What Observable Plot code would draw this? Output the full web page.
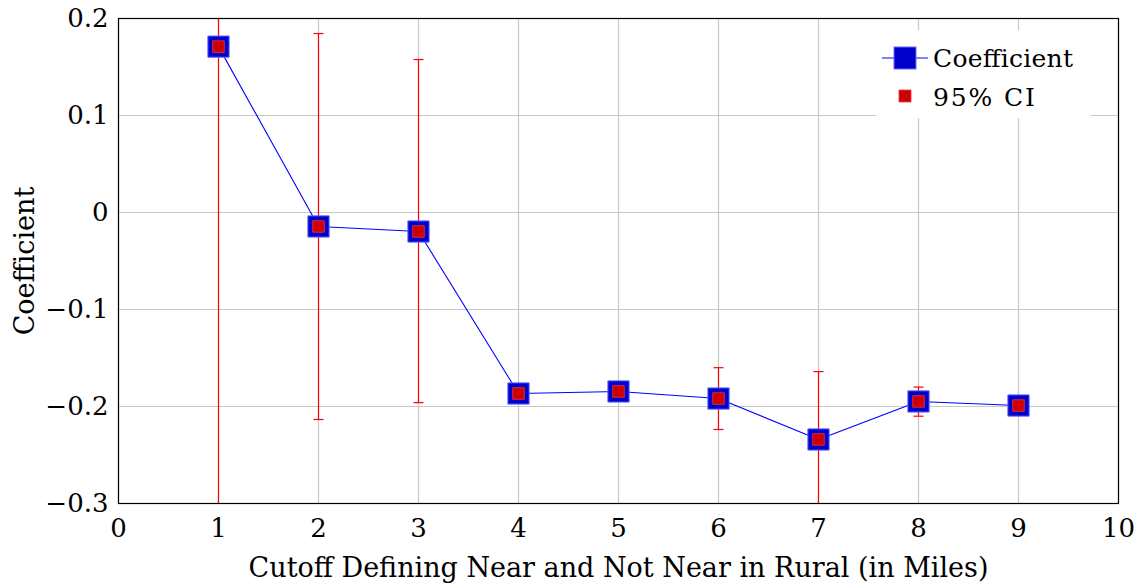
<!DOCTYPE html>
<html><head><meta charset="utf-8">
<script src="https://cdn.jsdelivr.net/npm/d3@7"></script>
<script src="https://cdn.jsdelivr.net/npm/@observablehq/plot@0.6"></script>
<style>
body{margin:0;background:#fff;}
#wrap{position:relative;width:1143px;height:588px;}
#legend{position:absolute;left:876px;top:30px;width:214px;height:88px;background:#fff;}
</style>
</head><body>
<div id="wrap"><div id="chart"></div>
<div id="legend">
<svg width="214" height="88" style="position:absolute;left:0;top:0">
<line x1="6" y1="28" x2="52" y2="28" stroke="#0000ff" stroke-width="1"/>
<rect x="18" y="17" width="22" height="22" fill="#0000cc" stroke="#6a6aff" stroke-width="1"/>
<rect x="23" y="60" width="12" height="12" fill="#cc0000" stroke="#ff3333" stroke-width="0.8"/>
<text x="57" y="37" font-size="25" font-family="DejaVu Serif, serif" textLength="140">Coefficient</text>
<text x="57" y="76" font-size="25" font-family="DejaVu Serif, serif" textLength="102">95% CI</text>
</svg>
</div>
</div>
<script>
const cutoffs = [1, 2, 3, 4, 5, 6, 7, 8, 9];
const coefs = [0.171, -0.0144, -0.0196, -0.1866, -0.1845, -0.1918, -0.234, -0.1948, -0.199];
const ciLow = [-0.43, -0.2134, -0.196, -0.194, -0.192, -0.2237, -0.304, -0.210, -0.206];
const ciHigh = [0.77, 0.1845, 0.1577, -0.179, -0.177, -0.160, -0.164, -0.180, -0.192];
const xTicks = [0,1,2,3,4,5,6,7,8,9,10];
const yTicks = [-0.3,-0.2,-0.1,0,0.1,0.2];
const xLabel = "Cutoff Defining Near and Not Near in Rural (in Miles)";
const yLabel = "Coefficient";

const data = cutoffs.map((c,i)=>({x:c, y:coefs[i], lo:ciLow[i], hi:ciHigh[i]}));
const capHalf = 0.05;
const caps = data.flatMap(d=>[{x1:d.x-capHalf,x2:d.x+capHalf,y:d.lo},{x1:d.x-capHalf,x2:d.x+capHalf,y:d.hi}]);
const fmt = v => v===0 ? "0" : (v<0 ? "\u2212" : "") + Math.abs(v).toFixed(1);

const plot = Plot.plot({
  width: 1143, height: 588,
  marginLeft: 118, marginRight: 25, marginTop: 18, marginBottom: 85,
  style: {fontFamily: "DejaVu Serif, serif", background: "#fff"},
  x: {domain: [0,10], ticks: xTicks},
  y: {domain: [-0.3,0.2], ticks: yTicks},
  marks: [
    Plot.gridX(xTicks, {stroke:"#c8c8c8", strokeOpacity:1, strokeWidth:1.2}),
    Plot.gridY(yTicks, {stroke:"#c8c8c8", strokeOpacity:1, strokeWidth:1.2}),
    Plot.axisX(xTicks, {tickSize:0, tickPadding:15, fontSize:26, label:null, tickFormat: d=>String(d)}),
    Plot.axisY(yTicks, {tickSize:0, tickPadding:10, fontSize:26, label:null, tickFormat: fmt}),
    Plot.text([xLabel], {text:d=>d, frameAnchor:"bottom", dy:65, fontSize:27, lineAnchor:"middle", textAnchor:"middle"}),
    Plot.text([yLabel], {text:d=>d, frameAnchor:"left", dx:-93, rotate:-90, fontSize:27, lineAnchor:"middle", textAnchor:"middle"}),
    Plot.ruleX(data, {x:"x", y1:"lo", y2:"hi", stroke:"#ff0000", strokeWidth:1.2, clip:true}),
    Plot.link(caps, {x1:"x1", x2:"x2", y1:"y", y2:"y", stroke:"#ff0000", strokeWidth:1.2, clip:true}),
    Plot.line(data, {x:"x", y:"y", stroke:"#0000ff", strokeWidth:1.1}),
    Plot.dot(data, {x:"x", y:"y", symbol:"square", r:12, fill:"#0000cc", stroke:"#6a6aff", strokeWidth:1}),
    Plot.dot(data, {x:"x", y:"y", symbol:"square", r:6.5, fill:"#cc0000", stroke:"#ff3333", strokeWidth:0.8}),
    Plot.frame({stroke:"#000", strokeWidth:1.2})
  ]
});
document.getElementById("chart").appendChild(plot);
</script>
</body></html>
